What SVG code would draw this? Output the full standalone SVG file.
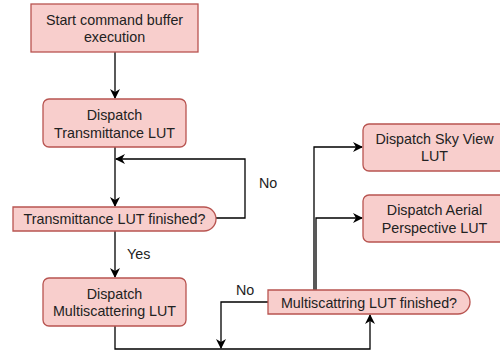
<svg xmlns="http://www.w3.org/2000/svg" width="500" height="354" viewBox="0 0 500 354">
<style>
.box{fill:#f8cecc;stroke:#b85450;stroke-width:1.3}
.t{font-family:"Liberation Sans",Arial,sans-serif;font-size:14.3px;fill:#222;text-anchor:middle}
.lb{font-family:"Liberation Sans",Arial,sans-serif;font-size:14.3px;fill:#222}
.c{fill:none;stroke:#000;stroke-width:1.3}
</style>
<defs>
<marker id="arr" viewBox="0 0 10 10" refX="9" refY="5" markerWidth="10" markerHeight="10" markerUnits="userSpaceOnUse" orient="auto">
<path d="M0,0 L10,5 L0,10 L3,5 Z" fill="#000"/>
</marker>
</defs>
<rect width="500" height="354" fill="#fff"/>
<g id="connectors">
<path class="c" d="M115,52 V98" marker-end="url(#arr)"/>
<path class="c" d="M115,147 V206" marker-end="url(#arr)"/>
<path class="c" d="M216,218 H245 V159 H116" marker-end="url(#arr)"/>
<path class="c" d="M115,231 V277" marker-end="url(#arr)"/>
<path class="c" d="M115,326 V349 H370 V315" marker-end="url(#arr)"/>
<path class="c" d="M268,302 H221 V348" marker-end="url(#arr)"/>
<path class="c" d="M314,290 V147 H362" marker-end="url(#arr)"/>
<path class="c" d="M316,290 V218 H362" marker-end="url(#arr)"/>
<text class="lb" x="259" y="187.5">No</text>
<text class="lb" x="127" y="258.5">Yes</text>
<text class="lb" x="236" y="295">No</text>
</g>
<g id="start">
<rect class="box" x="31" y="4" width="167" height="48"/>
<text class="t" x="114.5" y="25">Start command buffer</text>
<text class="t" x="114.5" y="42">execution</text>
</g>
<g id="dispatch-transmittance">
<rect class="box" x="43" y="99" width="143" height="48" rx="6"/>
<text class="t" x="114.5" y="119.5">Dispatch</text>
<text class="t" x="114.5" y="137.5">Transmittance LUT</text>
</g>
<g id="transmittance-finished">
<path class="box" d="M13,207 H204 A12,12 0 0 1 204,231 H13 Z"/>
<text class="t" x="114.5" y="223.5">Transmittance LUT finished?</text>
</g>
<g id="dispatch-multiscattering">
<rect class="box" x="43" y="278" width="143" height="48" rx="6"/>
<text class="t" x="114.5" y="298.5">Dispatch</text>
<text class="t" x="114.5" y="316">Multiscattering LUT</text>
</g>
<g id="multiscattering-finished">
<path class="box" d="M268,290 H458 A12,12 0 0 1 458,314 H268 Z"/>
<text class="t" x="369" y="307.5">Multiscattring LUT finished?</text>
</g>
<g id="dispatch-skyview">
<rect class="box" x="363" y="124" width="144" height="47" rx="6"/>
<text class="t" x="434.5" y="144">Dispatch Sky View</text>
<text class="t" x="434.5" y="161">LUT</text>
</g>
<g id="dispatch-aerial">
<rect class="box" x="363" y="195" width="144" height="47" rx="6"/>
<text class="t" x="434.5" y="215">Dispatch Aerial</text>
<text class="t" x="434.5" y="232.5">Perspective LUT</text>
</g>
</svg>
